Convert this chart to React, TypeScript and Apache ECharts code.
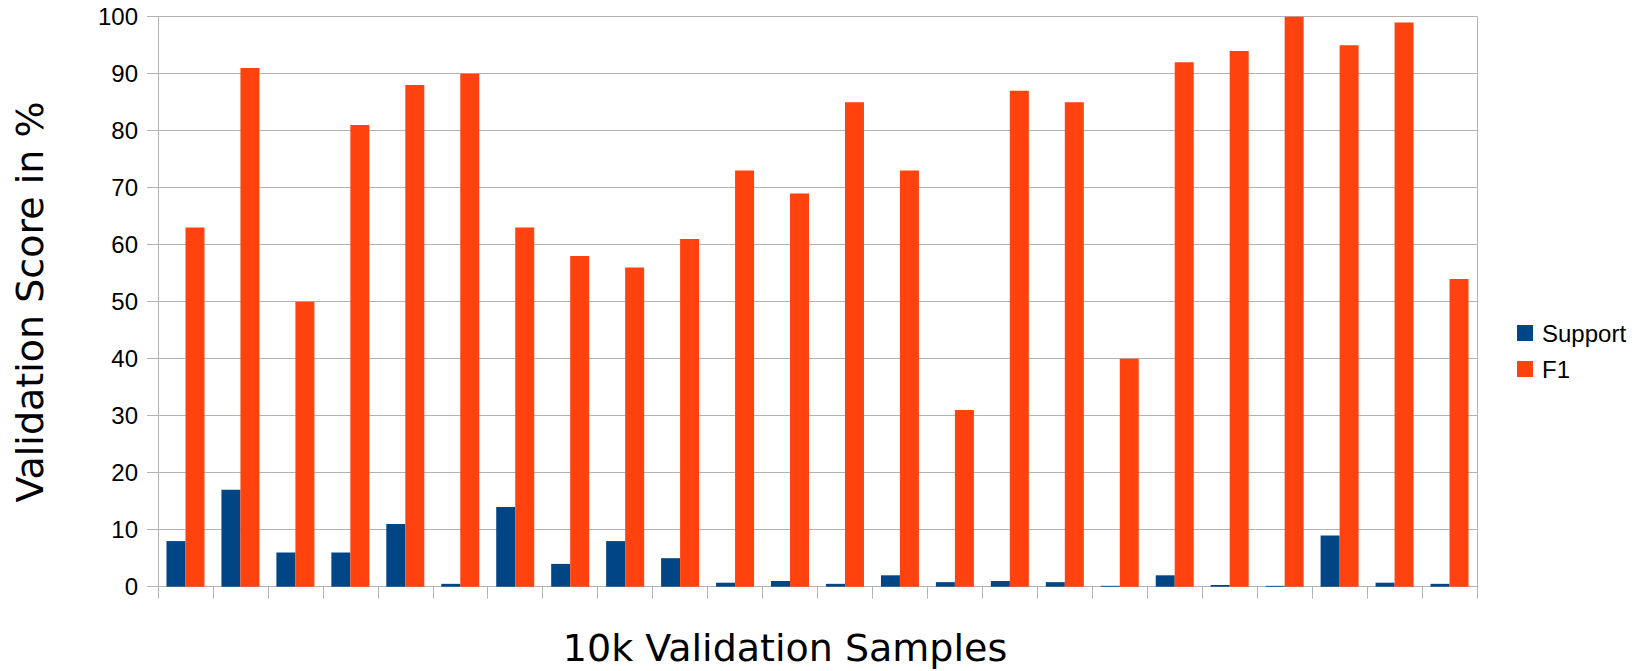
import React, { useEffect, useRef } from "react";
import * as echarts from "echarts";

const categories: string[] = Array.from({ length: 24 }, (_, i) => String(i + 1));
const supportValues: number[] = [8, 17, 6, 6, 11, 0.5, 14, 4, 8, 5, 0.7, 1, 0.5, 2, 0.8, 1, 0.8, 0.15, 2, 0.3, 0.15, 9, 0.7, 0.5];
const f1Values: number[] = [63, 91, 50, 81, 88, 90, 63, 58, 56, 61, 73, 69, 85, 73, 31, 87, 85, 40, 92, 94, 100, 95, 99, 54];
const seriesNames: string[] = ["Support", "F1"];
const xTitle = "10k Validation Samples";
const yTitle = "Validation Score in %";

const BLUE = "#004586";
const ORANGE = "#ff420e";
const GRAY = "#b3b3b3";

export default function App() {
  const ref = useRef<HTMLDivElement>(null);
  useEffect(() => {
    if (!ref.current) return;
    const chart = echarts.init(ref.current, undefined, { renderer: "svg" });
    chart.setOption({
      animation: false,
      backgroundColor: "#ffffff",
      grid: { left: 158, right: 171, top: 16.7, bottom: 84.3, containLabel: false },
      legend: {
        orient: "vertical",
        left: 1512,
        top: 316,
        itemWidth: 16,
        itemHeight: 16,
        itemGap: 12,
        icon: "rect",
        textStyle: { fontFamily: "Liberation Sans", fontSize: 24, color: "#000", padding: [0, 0, 0, 4] },
        data: seriesNames,
      },
      xAxis: {
        type: "category",
        data: categories,
        axisLine: { show: true, lineStyle: { color: GRAY, width: 1 } },
        axisTick: { show: true, length: 12, alignWithLabel: false, lineStyle: { color: GRAY } },
        axisLabel: { show: false },
        splitLine: { show: false },
      },
      yAxis: [
        {
          type: "value",
          min: 0,
          max: 100,
          interval: 10,
          axisLine: { show: true, lineStyle: { color: GRAY, width: 1 } },
          axisTick: { show: true, length: 11, lineStyle: { color: GRAY } },
          axisLabel: { fontFamily: "Liberation Sans", fontSize: 24, color: "#000", margin: 20 },
          splitLine: { show: true, lineStyle: { color: GRAY, width: 1 } },
        },
        {
          type: "value",
          position: "right",
          min: 0,
          max: 100,
          interval: 10,
          axisLine: { show: true, lineStyle: { color: GRAY, width: 1 } },
          axisTick: { show: false },
          axisLabel: { show: false },
          splitLine: { show: false },
        },
      ],
      series: [
        {
          name: seriesNames[0],
          type: "bar",
          data: supportValues,
          barWidth: 19,
          barGap: "0%",
          itemStyle: { color: BLUE },
        },
        {
          name: seriesNames[1],
          type: "bar",
          data: f1Values,
          barWidth: 19,
          barGap: "0%",
          itemStyle: { color: ORANGE },
        },
      ],
      graphic: [
        {
          type: "text",
          x: 785,
          y: 648,
          style: {
            text: xTitle,
            fontFamily: "DejaVu Sans",
            fontSize: 38,
            fill: "#000",
            textAlign: "center",
            textVerticalAlign: "middle",
          },
        },
        {
          type: "text",
          x: 30,
          y: 302,
          rotation: Math.PI / 2,
          style: {
            text: yTitle,
            fontFamily: "DejaVu Sans",
            fontSize: 38,
            fill: "#000",
            textAlign: "center",
            textVerticalAlign: "middle",
          },
        },
      ],
    });
    return () => chart.dispose();
  }, []);
  return (
    <div
      ref={ref}
      style={{ position: "fixed", left: 0, top: 0, width: 1648, height: 671, background: "#fff" }}
    />
  );
}
